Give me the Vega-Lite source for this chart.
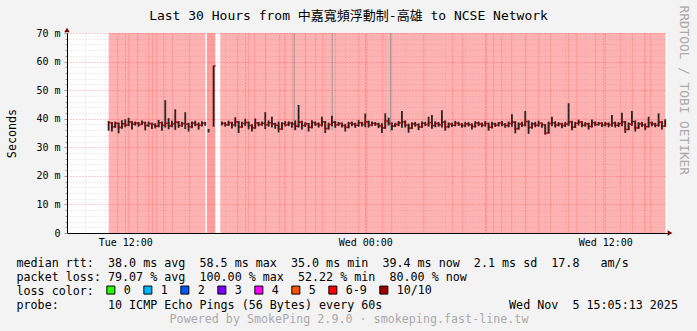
{
  "$schema": "https://vega.github.io/schema/vega-lite/v6.json",
  "width": 600,
  "height": 200,
  "autosize": {"type": "none"},
  "padding": {"left": 67, "top": 33, "right": 30, "bottom": 98},
  "background": "#f3f3f3",
  "config": {"font": "DejaVu Sans Mono", "view": {"fill": "#ffffff", "stroke": null}},
  "datasets": {
    "bg": [
      {"t0": "2025-11-04T11:10", "t1": "2025-11-04T16:00", "loss": "6-9", "shade": "light"},
      {"t0": "2025-11-04T16:05", "t1": "2025-11-04T16:30", "loss": "6-9", "shade": "light"},
      {"t0": "2025-11-04T16:05", "t1": "2025-11-04T16:30", "loss": "6-9", "shade": "dark"},
      {"t0": "2025-11-04T16:45", "t1": "2025-11-05T15:00", "loss": "6-9", "shade": "light"},
      {"t0": "2025-11-04T11:35", "t1": "2025-11-04T11:39", "loss": "6-9", "shade": "dark"},
      {"t0": "2025-11-04T12:08", "t1": "2025-11-04T12:12", "loss": "6-9", "shade": "dark"},
      {"t0": "2025-11-04T12:35", "t1": "2025-11-04T12:39", "loss": "6-9", "shade": "dark"},
      {"t0": "2025-11-04T13:08", "t1": "2025-11-04T13:12", "loss": "6-9", "shade": "dark"},
      {"t0": "2025-11-04T13:20", "t1": "2025-11-04T13:24", "loss": "6-9", "shade": "dark"},
      {"t0": "2025-11-04T13:32", "t1": "2025-11-04T13:36", "loss": "6-9", "shade": "dark"},
      {"t0": "2025-11-04T13:53", "t1": "2025-11-04T13:57", "loss": "6-9", "shade": "dark"},
      {"t0": "2025-11-04T14:20", "t1": "2025-11-04T14:24", "loss": "6-9", "shade": "dark"},
      {"t0": "2025-11-04T15:11", "t1": "2025-11-04T15:15", "loss": "6-9", "shade": "dark"},
      {"t0": "2025-11-04T17:35", "t1": "2025-11-04T17:39", "loss": "6-9", "shade": "dark"},
      {"t0": "2025-11-04T18:08", "t1": "2025-11-04T18:12", "loss": "6-9", "shade": "dark"},
      {"t0": "2025-11-04T18:26", "t1": "2025-11-04T18:30", "loss": "6-9", "shade": "dark"},
      {"t0": "2025-11-04T18:59", "t1": "2025-11-04T19:03", "loss": "6-9", "shade": "dark"},
      {"t0": "2025-11-04T19:41", "t1": "2025-11-04T19:45", "loss": "6-9", "shade": "dark"},
      {"t0": "2025-11-04T19:56", "t1": "2025-11-04T20:00", "loss": "6-9", "shade": "dark"},
      {"t0": "2025-11-04T20:20", "t1": "2025-11-04T20:24", "loss": "6-9", "shade": "dark"},
      {"t0": "2025-11-04T20:59", "t1": "2025-11-04T21:03", "loss": "6-9", "shade": "dark"},
      {"t0": "2025-11-04T21:29", "t1": "2025-11-04T21:33", "loss": "6-9", "shade": "dark"},
      {"t0": "2025-11-04T21:50", "t1": "2025-11-04T21:54", "loss": "6-9", "shade": "dark"},
      {"t0": "2025-11-04T22:29", "t1": "2025-11-04T22:33", "loss": "6-9", "shade": "dark"},
      {"t0": "2025-11-04T23:38", "t1": "2025-11-04T23:42", "loss": "6-9", "shade": "dark"},
      {"t0": "2025-11-05T00:02", "t1": "2025-11-05T00:06", "loss": "6-9", "shade": "dark"},
      {"t0": "2025-11-05T00:50", "t1": "2025-11-05T00:54", "loss": "6-9", "shade": "dark"},
      {"t0": "2025-11-05T01:17", "t1": "2025-11-05T01:21", "loss": "6-9", "shade": "dark"},
      {"t0": "2025-11-05T02:53", "t1": "2025-11-05T02:57", "loss": "6-9", "shade": "dark"},
      {"t0": "2025-11-05T04:20", "t1": "2025-11-05T04:24", "loss": "6-9", "shade": "dark"},
      {"t0": "2025-11-05T04:50", "t1": "2025-11-05T04:54", "loss": "6-9", "shade": "dark"},
      {"t0": "2025-11-05T06:02", "t1": "2025-11-05T06:06", "loss": "6-9", "shade": "dark"},
      {"t0": "2025-11-05T06:23", "t1": "2025-11-05T06:27", "loss": "6-9", "shade": "dark"},
      {"t0": "2025-11-05T06:47", "t1": "2025-11-05T06:51", "loss": "6-9", "shade": "dark"},
      {"t0": "2025-11-05T07:17", "t1": "2025-11-05T07:21", "loss": "6-9", "shade": "dark"},
      {"t0": "2025-11-05T07:59", "t1": "2025-11-05T08:03", "loss": "6-9", "shade": "dark"},
      {"t0": "2025-11-05T08:38", "t1": "2025-11-05T08:42", "loss": "6-9", "shade": "dark"},
      {"t0": "2025-11-05T09:14", "t1": "2025-11-05T09:18", "loss": "6-9", "shade": "dark"},
      {"t0": "2025-11-05T10:08", "t1": "2025-11-05T10:12", "loss": "6-9", "shade": "dark"},
      {"t0": "2025-11-05T10:32", "t1": "2025-11-05T10:36", "loss": "6-9", "shade": "dark"},
      {"t0": "2025-11-05T11:29", "t1": "2025-11-05T11:33", "loss": "6-9", "shade": "dark"},
      {"t0": "2025-11-05T11:53", "t1": "2025-11-05T11:57", "loss": "6-9", "shade": "dark"},
      {"t0": "2025-11-05T12:44", "t1": "2025-11-05T12:48", "loss": "6-9", "shade": "dark"},
      {"t0": "2025-11-05T13:20", "t1": "2025-11-05T13:24", "loss": "6-9", "shade": "dark"},
      {"t0": "2025-11-05T13:56", "t1": "2025-11-05T14:00", "loss": "6-9", "shade": "dark"},
      {"t0": "2025-11-05T14:14", "t1": "2025-11-05T14:18", "loss": "6-9", "shade": "dark"}
    ],
    "outliers": [
      {"t": "2025-11-04T20:27", "lo": 36.0, "hi": 80},
      {"t": "2025-11-04T22:21", "lo": 36.0, "hi": 80},
      {"t": "2025-11-05T01:16", "lo": 35.5, "hi": 80}
    ],
    "arrowUp": [{"t": "2025-11-04T09:05:13", "v": 70}],
    "arrowRight": [{"t": "2025-11-05T15:05:13", "v": 0}],
    "rtt": [
      {"t": "2025-11-04T11:10", "m": 38.6, "lo": 35.8, "hi": 39.2, "seg": "a"},
      {"t": "2025-11-04T11:20", "m": 37.2, "lo": 35.5, "hi": 38.8, "seg": "a"},
      {"t": "2025-11-04T11:30", "m": 38.4, "lo": 36.8, "hi": 39.0, "seg": "a"},
      {"t": "2025-11-04T11:40", "m": 36.9, "lo": 34.9, "hi": 38.6, "seg": "a"},
      {"t": "2025-11-04T11:50", "m": 38.2, "lo": 36.5, "hi": 39.5, "seg": "a"},
      {"t": "2025-11-04T12:00", "m": 37.8, "lo": 37.0, "hi": 39.8, "seg": "a"},
      {"t": "2025-11-04T12:10", "m": 38.9, "lo": 37.4, "hi": 40.3, "seg": "a"},
      {"t": "2025-11-04T12:20", "m": 38.1, "lo": 36.2, "hi": 39.2, "seg": "a"},
      {"t": "2025-11-04T12:30", "m": 38.5, "lo": 37.6, "hi": 39.0, "seg": "a"},
      {"t": "2025-11-04T12:40", "m": 38.0, "lo": 37.2, "hi": 38.8, "seg": "a"},
      {"t": "2025-11-04T12:50", "m": 38.7, "lo": 37.8, "hi": 39.4, "seg": "a"},
      {"t": "2025-11-04T13:00", "m": 37.6, "lo": 35.9, "hi": 38.9, "seg": "a"},
      {"t": "2025-11-04T13:10", "m": 38.3, "lo": 37.2, "hi": 39.0, "seg": "a"},
      {"t": "2025-11-04T13:20", "m": 38.0, "lo": 36.4, "hi": 38.6, "seg": "a"},
      {"t": "2025-11-04T13:30", "m": 37.4, "lo": 36.6, "hi": 38.4, "seg": "a"},
      {"t": "2025-11-04T13:40", "m": 38.6, "lo": 37.0, "hi": 39.6, "seg": "a"},
      {"t": "2025-11-04T13:50", "m": 37.7, "lo": 35.8, "hi": 39.0, "seg": "a"},
      {"t": "2025-11-04T14:00", "m": 38.4, "lo": 36.9, "hi": 46.5, "seg": "a"},
      {"t": "2025-11-04T14:10", "m": 37.5, "lo": 36.3, "hi": 40.2, "seg": "a"},
      {"t": "2025-11-04T14:20", "m": 38.2, "lo": 37.0, "hi": 39.3, "seg": "a"},
      {"t": "2025-11-04T14:30", "m": 38.8, "lo": 36.1, "hi": 43.3, "seg": "a"},
      {"t": "2025-11-04T14:40", "m": 37.6, "lo": 36.8, "hi": 39.1, "seg": "a"},
      {"t": "2025-11-04T14:50", "m": 38.3, "lo": 37.2, "hi": 38.9, "seg": "a"},
      {"t": "2025-11-04T15:00", "m": 38.1, "lo": 36.4, "hi": 42.3, "seg": "a"},
      {"t": "2025-11-04T15:10", "m": 37.2, "lo": 35.5, "hi": 38.6, "seg": "a"},
      {"t": "2025-11-04T15:20", "m": 38.5, "lo": 36.7, "hi": 39.0, "seg": "a"},
      {"t": "2025-11-04T15:30", "m": 38.0, "lo": 37.4, "hi": 39.3, "seg": "a"},
      {"t": "2025-11-04T15:40", "m": 37.7, "lo": 36.2, "hi": 38.7, "seg": "a"},
      {"t": "2025-11-04T15:50", "m": 38.4, "lo": 37.3, "hi": 39.1, "seg": "a"},
      {"t": "2025-11-04T16:00", "m": 38.2, "lo": 37.5, "hi": 38.9, "seg": "a"},
      {"t": "2025-11-04T16:10", "m": 35.6, "lo": 35.2, "hi": 36.4, "seg": "b"},
      {"t": "2025-11-04T16:25", "m": 58.5, "lo": 37.2, "hi": 58.5, "seg": "c"},
      {"t": "2025-11-04T16:31", "m": 58.5, "lo": 58.5, "hi": 58.5, "seg": "c"},
      {"t": "2025-11-04T16:50", "m": 38.4, "lo": 37.6, "hi": 39.0, "seg": "d"},
      {"t": "2025-11-04T17:00", "m": 37.9, "lo": 37.2, "hi": 38.8, "seg": "d"},
      {"t": "2025-11-04T17:10", "m": 38.6, "lo": 37.5, "hi": 39.3, "seg": "d"},
      {"t": "2025-11-04T17:20", "m": 37.8, "lo": 36.6, "hi": 38.9, "seg": "d"},
      {"t": "2025-11-04T17:30", "m": 38.9, "lo": 37.2, "hi": 40.5, "seg": "d"},
      {"t": "2025-11-04T17:40", "m": 37.1, "lo": 35.0, "hi": 39.2, "seg": "d"},
      {"t": "2025-11-04T17:50", "m": 38.3, "lo": 36.8, "hi": 38.9, "seg": "d"},
      {"t": "2025-11-04T18:00", "m": 38.7, "lo": 37.4, "hi": 40.0, "seg": "d"},
      {"t": "2025-11-04T18:10", "m": 37.6, "lo": 36.3, "hi": 39.0, "seg": "d"},
      {"t": "2025-11-04T18:20", "m": 36.8, "lo": 35.5, "hi": 38.1, "seg": "d"},
      {"t": "2025-11-04T18:30", "m": 38.5, "lo": 36.5, "hi": 40.1, "seg": "d"},
      {"t": "2025-11-04T18:40", "m": 38.0, "lo": 37.3, "hi": 38.9, "seg": "d"},
      {"t": "2025-11-04T18:50", "m": 38.4, "lo": 37.5, "hi": 39.0, "seg": "d"},
      {"t": "2025-11-04T19:00", "m": 37.9, "lo": 36.4, "hi": 42.3, "seg": "d"},
      {"t": "2025-11-04T19:10", "m": 38.6, "lo": 37.2, "hi": 39.4, "seg": "d"},
      {"t": "2025-11-04T19:20", "m": 38.2, "lo": 36.9, "hi": 40.7, "seg": "d"},
      {"t": "2025-11-04T19:30", "m": 37.7, "lo": 36.5, "hi": 38.6, "seg": "d"},
      {"t": "2025-11-04T19:40", "m": 36.4, "lo": 35.2, "hi": 39.0, "seg": "d"},
      {"t": "2025-11-04T19:50", "m": 38.3, "lo": 36.1, "hi": 38.8, "seg": "d"},
      {"t": "2025-11-04T20:00", "m": 37.9, "lo": 37.3, "hi": 39.2, "seg": "d"},
      {"t": "2025-11-04T20:10", "m": 38.5, "lo": 37.4, "hi": 39.1, "seg": "d"},
      {"t": "2025-11-04T20:20", "m": 38.1, "lo": 36.8, "hi": 38.9, "seg": "d"},
      {"t": "2025-11-04T20:30", "m": 37.4, "lo": 36.0, "hi": 39.4, "seg": "d"},
      {"t": "2025-11-04T20:40", "m": 38.8, "lo": 36.9, "hi": 44.8, "seg": "d"},
      {"t": "2025-11-04T20:50", "m": 37.6, "lo": 36.2, "hi": 39.3, "seg": "d"},
      {"t": "2025-11-04T21:00", "m": 38.2, "lo": 37.1, "hi": 38.8, "seg": "d"},
      {"t": "2025-11-04T21:10", "m": 37.0, "lo": 35.5, "hi": 38.5, "seg": "d"},
      {"t": "2025-11-04T21:20", "m": 38.7, "lo": 36.6, "hi": 39.5, "seg": "d"},
      {"t": "2025-11-04T21:30", "m": 38.1, "lo": 37.5, "hi": 39.0, "seg": "d"},
      {"t": "2025-11-04T21:40", "m": 37.8, "lo": 36.9, "hi": 38.7, "seg": "d"},
      {"t": "2025-11-04T21:50", "m": 38.9, "lo": 37.3, "hi": 40.7, "seg": "d"},
      {"t": "2025-11-04T22:00", "m": 36.6, "lo": 35.0, "hi": 39.2, "seg": "d"},
      {"t": "2025-11-04T22:10", "m": 38.0, "lo": 36.2, "hi": 38.6, "seg": "d"},
      {"t": "2025-11-04T22:20", "m": 38.8, "lo": 37.4, "hi": 41.0, "seg": "d"},
      {"t": "2025-11-04T22:30", "m": 37.9, "lo": 36.8, "hi": 39.2, "seg": "d"},
      {"t": "2025-11-04T22:40", "m": 38.3, "lo": 37.5, "hi": 38.9, "seg": "d"},
      {"t": "2025-11-04T22:50", "m": 37.6, "lo": 36.9, "hi": 38.7, "seg": "d"},
      {"t": "2025-11-04T23:00", "m": 37.0, "lo": 35.5, "hi": 38.2, "seg": "d"},
      {"t": "2025-11-04T23:10", "m": 38.4, "lo": 36.6, "hi": 38.9, "seg": "d"},
      {"t": "2025-11-04T23:20", "m": 38.1, "lo": 37.4, "hi": 39.0, "seg": "d"},
      {"t": "2025-11-04T23:30", "m": 37.7, "lo": 36.8, "hi": 38.6, "seg": "d"},
      {"t": "2025-11-04T23:40", "m": 38.6, "lo": 37.2, "hi": 39.5, "seg": "d"},
      {"t": "2025-11-04T23:50", "m": 38.0, "lo": 37.3, "hi": 38.9, "seg": "d"},
      {"t": "2025-11-05T00:00", "m": 38.9, "lo": 37.0, "hi": 41.8, "seg": "d"},
      {"t": "2025-11-05T00:10", "m": 37.8, "lo": 36.9, "hi": 39.3, "seg": "d"},
      {"t": "2025-11-05T00:20", "m": 38.4, "lo": 37.4, "hi": 39.0, "seg": "d"},
      {"t": "2025-11-05T00:30", "m": 38.1, "lo": 37.5, "hi": 38.8, "seg": "d"},
      {"t": "2025-11-05T00:40", "m": 37.5, "lo": 36.7, "hi": 38.6, "seg": "d"},
      {"t": "2025-11-05T00:50", "m": 36.8, "lo": 35.0, "hi": 38.4, "seg": "d"},
      {"t": "2025-11-05T01:00", "m": 39.2, "lo": 36.5, "hi": 41.9, "seg": "d"},
      {"t": "2025-11-05T01:10", "m": 38.3, "lo": 37.6, "hi": 40.4, "seg": "d"},
      {"t": "2025-11-05T01:20", "m": 37.4, "lo": 36.0, "hi": 38.7, "seg": "d"},
      {"t": "2025-11-05T01:30", "m": 38.0, "lo": 37.1, "hi": 38.6, "seg": "d"},
      {"t": "2025-11-05T01:40", "m": 38.6, "lo": 37.4, "hi": 39.2, "seg": "d"},
      {"t": "2025-11-05T01:50", "m": 38.9, "lo": 36.8, "hi": 42.7, "seg": "d"},
      {"t": "2025-11-05T02:00", "m": 37.8, "lo": 36.9, "hi": 39.4, "seg": "d"},
      {"t": "2025-11-05T02:10", "m": 36.7, "lo": 35.1, "hi": 38.3, "seg": "d"},
      {"t": "2025-11-05T02:20", "m": 38.2, "lo": 36.4, "hi": 38.8, "seg": "d"},
      {"t": "2025-11-05T02:30", "m": 37.9, "lo": 37.2, "hi": 38.9, "seg": "d"},
      {"t": "2025-11-05T02:40", "m": 37.1, "lo": 36.0, "hi": 38.4, "seg": "d"},
      {"t": "2025-11-05T02:50", "m": 38.4, "lo": 36.8, "hi": 39.0, "seg": "d"},
      {"t": "2025-11-05T03:00", "m": 38.0, "lo": 37.4, "hi": 38.9, "seg": "d"},
      {"t": "2025-11-05T03:10", "m": 38.7, "lo": 37.2, "hi": 40.7, "seg": "d"},
      {"t": "2025-11-05T03:20", "m": 37.6, "lo": 36.5, "hi": 41.3, "seg": "d"},
      {"t": "2025-11-05T03:30", "m": 38.3, "lo": 37.0, "hi": 39.1, "seg": "d"},
      {"t": "2025-11-05T03:40", "m": 37.9, "lo": 37.2, "hi": 38.8, "seg": "d"},
      {"t": "2025-11-05T03:50", "m": 38.8, "lo": 36.9, "hi": 43.0, "seg": "d"},
      {"t": "2025-11-05T04:00", "m": 37.2, "lo": 35.8, "hi": 39.4, "seg": "d"},
      {"t": "2025-11-05T04:10", "m": 38.1, "lo": 36.7, "hi": 38.7, "seg": "d"},
      {"t": "2025-11-05T04:20", "m": 37.7, "lo": 37.1, "hi": 38.6, "seg": "d"},
      {"t": "2025-11-05T04:30", "m": 38.4, "lo": 37.3, "hi": 39.2, "seg": "d"},
      {"t": "2025-11-05T04:40", "m": 38.0, "lo": 37.5, "hi": 38.9, "seg": "d"},
      {"t": "2025-11-05T04:50", "m": 37.6, "lo": 36.8, "hi": 38.5, "seg": "d"},
      {"t": "2025-11-05T05:00", "m": 38.2, "lo": 37.0, "hi": 38.9, "seg": "d"},
      {"t": "2025-11-05T05:10", "m": 37.9, "lo": 37.3, "hi": 38.8, "seg": "d"},
      {"t": "2025-11-05T05:20", "m": 37.3, "lo": 36.2, "hi": 38.4, "seg": "d"},
      {"t": "2025-11-05T05:30", "m": 38.5, "lo": 36.9, "hi": 39.1, "seg": "d"},
      {"t": "2025-11-05T05:40", "m": 38.1, "lo": 37.4, "hi": 39.0, "seg": "d"},
      {"t": "2025-11-05T05:50", "m": 37.8, "lo": 37.0, "hi": 38.7, "seg": "d"},
      {"t": "2025-11-05T06:00", "m": 38.3, "lo": 37.2, "hi": 39.2, "seg": "d"},
      {"t": "2025-11-05T06:10", "m": 37.0, "lo": 35.8, "hi": 38.6, "seg": "d"},
      {"t": "2025-11-05T06:20", "m": 38.2, "lo": 36.6, "hi": 38.9, "seg": "d"},
      {"t": "2025-11-05T06:30", "m": 37.7, "lo": 37.1, "hi": 38.6, "seg": "d"},
      {"t": "2025-11-05T06:40", "m": 38.6, "lo": 37.3, "hi": 38.8, "seg": "d"},
      {"t": "2025-11-05T06:50", "m": 38.0, "lo": 37.4, "hi": 39.2, "seg": "d"},
      {"t": "2025-11-05T07:00", "m": 37.6, "lo": 36.8, "hi": 38.5, "seg": "d"},
      {"t": "2025-11-05T07:10", "m": 38.3, "lo": 37.0, "hi": 39.0, "seg": "d"},
      {"t": "2025-11-05T07:20", "m": 38.8, "lo": 37.2, "hi": 41.6, "seg": "d"},
      {"t": "2025-11-05T07:30", "m": 36.5, "lo": 34.9, "hi": 39.1, "seg": "d"},
      {"t": "2025-11-05T07:40", "m": 38.1, "lo": 36.2, "hi": 38.7, "seg": "d"},
      {"t": "2025-11-05T07:50", "m": 37.8, "lo": 37.1, "hi": 38.9, "seg": "d"},
      {"t": "2025-11-05T08:00", "m": 39.0, "lo": 37.3, "hi": 42.7, "seg": "d"},
      {"t": "2025-11-05T08:10", "m": 36.9, "lo": 34.7, "hi": 39.4, "seg": "d"},
      {"t": "2025-11-05T08:20", "m": 38.2, "lo": 36.5, "hi": 38.8, "seg": "d"},
      {"t": "2025-11-05T08:30", "m": 37.7, "lo": 37.0, "hi": 38.9, "seg": "d"},
      {"t": "2025-11-05T08:40", "m": 38.4, "lo": 37.2, "hi": 39.3, "seg": "d"},
      {"t": "2025-11-05T08:50", "m": 37.9, "lo": 36.8, "hi": 38.6, "seg": "d"},
      {"t": "2025-11-05T09:00", "m": 35.0, "lo": 34.4, "hi": 38.2, "seg": "d"},
      {"t": "2025-11-05T09:10", "m": 38.3, "lo": 34.8, "hi": 39.0, "seg": "d"},
      {"t": "2025-11-05T09:20", "m": 38.6, "lo": 37.4, "hi": 40.7, "seg": "d"},
      {"t": "2025-11-05T09:30", "m": 37.8, "lo": 36.9, "hi": 39.1, "seg": "d"},
      {"t": "2025-11-05T09:40", "m": 38.2, "lo": 37.3, "hi": 38.8, "seg": "d"},
      {"t": "2025-11-05T09:50", "m": 37.6, "lo": 36.7, "hi": 38.6, "seg": "d"},
      {"t": "2025-11-05T10:00", "m": 38.1, "lo": 37.1, "hi": 38.9, "seg": "d"},
      {"t": "2025-11-05T10:10", "m": 38.9, "lo": 37.5, "hi": 45.4, "seg": "d"},
      {"t": "2025-11-05T10:20", "m": 37.0, "lo": 36.0, "hi": 39.3, "seg": "d"},
      {"t": "2025-11-05T10:30", "m": 38.4, "lo": 36.8, "hi": 38.9, "seg": "d"},
      {"t": "2025-11-05T10:40", "m": 38.8, "lo": 37.6, "hi": 39.7, "seg": "d"},
      {"t": "2025-11-05T10:50", "m": 37.7, "lo": 37.0, "hi": 39.1, "seg": "d"},
      {"t": "2025-11-05T11:00", "m": 38.2, "lo": 37.2, "hi": 38.8, "seg": "d"},
      {"t": "2025-11-05T11:10", "m": 37.3, "lo": 36.2, "hi": 38.6, "seg": "d"},
      {"t": "2025-11-05T11:20", "m": 38.7, "lo": 36.9, "hi": 39.7, "seg": "d"},
      {"t": "2025-11-05T11:30", "m": 38.0, "lo": 37.4, "hi": 39.0, "seg": "d"},
      {"t": "2025-11-05T11:40", "m": 38.4, "lo": 37.6, "hi": 38.9, "seg": "d"},
      {"t": "2025-11-05T11:50", "m": 37.8, "lo": 37.1, "hi": 38.8, "seg": "d"},
      {"t": "2025-11-05T12:00", "m": 38.2, "lo": 37.3, "hi": 38.9, "seg": "d"},
      {"t": "2025-11-05T12:10", "m": 37.9, "lo": 37.0, "hi": 38.7, "seg": "d"},
      {"t": "2025-11-05T12:20", "m": 38.5, "lo": 37.2, "hi": 41.3, "seg": "d"},
      {"t": "2025-11-05T12:30", "m": 37.7, "lo": 36.9, "hi": 39.0, "seg": "d"},
      {"t": "2025-11-05T12:40", "m": 38.3, "lo": 37.1, "hi": 38.8, "seg": "d"},
      {"t": "2025-11-05T12:50", "m": 38.9, "lo": 37.4, "hi": 42.1, "seg": "d"},
      {"t": "2025-11-05T13:00", "m": 36.2, "lo": 35.0, "hi": 39.2, "seg": "d"},
      {"t": "2025-11-05T13:10", "m": 38.1, "lo": 36.0, "hi": 38.7, "seg": "d"},
      {"t": "2025-11-05T13:20", "m": 39.0, "lo": 37.5, "hi": 42.7, "seg": "d"},
      {"t": "2025-11-05T13:30", "m": 36.8, "lo": 35.5, "hi": 39.3, "seg": "d"},
      {"t": "2025-11-05T13:40", "m": 38.2, "lo": 36.5, "hi": 38.8, "seg": "d"},
      {"t": "2025-11-05T13:50", "m": 37.8, "lo": 37.1, "hi": 38.9, "seg": "d"},
      {"t": "2025-11-05T14:00", "m": 37.2, "lo": 36.0, "hi": 38.4, "seg": "d"},
      {"t": "2025-11-05T14:10", "m": 38.6, "lo": 37.0, "hi": 40.7, "seg": "d"},
      {"t": "2025-11-05T14:20", "m": 38.1, "lo": 37.4, "hi": 39.0, "seg": "d"},
      {"t": "2025-11-05T14:30", "m": 37.7, "lo": 37.0, "hi": 38.6, "seg": "d"},
      {"t": "2025-11-05T14:40", "m": 38.8, "lo": 37.2, "hi": 41.9, "seg": "d"},
      {"t": "2025-11-05T14:50", "m": 37.4, "lo": 36.2, "hi": 39.1, "seg": "d"},
      {"t": "2025-11-05T15:00", "m": 39.4, "lo": 37.3, "hi": 39.8, "seg": "d"}
    ]
  },
  "layer": [
    {
      "data": {"name": "bg"},
      "mark": {"type": "rect"},
      "encoding": {
        "x": {
          "field": "t0", "type": "temporal",
          "scale": {"domain": [{"year": 2025, "month": 11, "date": 4, "hours": 9, "minutes": 5, "seconds": 13}, {"year": 2025, "month": 11, "date": 5, "hours": 15, "minutes": 5, "seconds": 13}], "nice": false},
          "axis": {
            "orient": "bottom",
            "values": [
              {"year": 2025, "month": 11, "date": 4, "hours": 12},
              {"year": 2025, "month": 11, "date": 4, "hours": 18},
              {"year": 2025, "month": 11, "date": 5, "hours": 0},
              {"year": 2025, "month": 11, "date": 5, "hours": 6},
              {"year": 2025, "month": 11, "date": 5, "hours": 12}
            ],
            "labelExpr": "hours(datum.value) % 12 === 0 ? timeFormat(datum.value, '%a %H:%M') : ''",
            "labelFont": "DejaVu Sans Mono", "labelFontSize": 10, "labelColor": "#000000", "labelPadding": 4,
            "labelFlush": false, "labelOverlap": false,
            "ticks": false,
            "domain": true, "domainColor": "#000000", "domainWidth": 1,
            "grid": true, "gridColor": "#ff0000", "gridOpacity": 0.4, "gridDash": [1, 2], "gridWidth": 1,
            "zindex": 1,
            "title": [
              "median\u00a0rtt:\u00a0\u00a038.0\u00a0ms\u00a0avg\u00a0\u00a058.5\u00a0ms\u00a0max\u00a0\u00a035.0\u00a0ms\u00a0min\u00a0\u00a039.4\u00a0ms\u00a0now\u00a0\u00a02.1\u00a0ms\u00a0sd\u00a0\u00a017.8\u00a0\u00a0\u00a0am/s",
              "packet\u00a0loss:\u00a079.07\u00a0%\u00a0avg\u00a0\u00a0100.00\u00a0%\u00a0max\u00a0\u00a052.22\u00a0%\u00a0min\u00a0\u00a080.00\u00a0%\u00a0now",
              "loss\u00a0color:",
              "probe:\u00a0\u00a0\u00a0\u00a0\u00a0\u00a0\u00a010\u00a0ICMP\u00a0Echo\u00a0Pings\u00a0(56\u00a0Bytes)\u00a0every\u00a060s\u00a0\u00a0\u00a0\u00a0\u00a0\u00a0\u00a0\u00a0\u00a0\u00a0\u00a0\u00a0\u00a0\u00a0\u00a0\u00a0\u00a0\u00a0Wed\u00a0Nov\u00a0\u00a05\u00a015:05:13\u00a02025"
            ],
            "titleX": -51, "titleY": 33, "titleAlign": "left", "titleBaseline": "alphabetic",
            "titleFont": "DejaVu Sans Mono", "titleFontSize": 11.7, "titleFontWeight": "normal", "titleColor": "#000000", "titleLineHeight": 14
          }
        },
        "x2": {"field": "t1"},
        "color": {
          "field": "loss", "type": "nominal",
          "scale": {"domain": ["0", "1", "2", "3", "4", "5", "6-9", "10/10"], "range": ["#26ff00", "#00b8ff", "#0059ff", "#7e00ff", "#ff00ff", "#ff5500", "#ff0000", "#a10000"]},
          "legend": {
            "orient": "none", "legendX": 38, "legendY": 251, "direction": "horizontal", "columns": 8,
            "title": null, "padding": 0,
            "symbolType": "square", "symbolSize": 64, "symbolStrokeColor": "#000000", "symbolStrokeWidth": 1, "symbolOpacity": 1,
            "labelFont": "DejaVu Sans Mono", "labelFontSize": 11.7, "labelColor": "#000000", "labelOffset": 7, "columnPadding": 10
          }
        },
        "opacity": {"condition": {"test": "datum.shade === 'dark'", "value": 0.12}, "value": 0.3}
      }
    },
    {
      "data": {"name": "outliers"},
      "mark": {"type": "rule", "color": "#9a9a9a", "strokeWidth": 1, "clip": true},
      "encoding": {
        "x": {
          "field": "t", "type": "temporal",
          "scale": {"domain": [{"year": 2025, "month": 11, "date": 4, "hours": 9, "minutes": 5, "seconds": 13}, {"year": 2025, "month": 11, "date": 5, "hours": 15, "minutes": 5, "seconds": 13}], "nice": false},
          "axis": {
            "orient": "bottom",
            "values": [
              {"year": 2025, "month": 11, "date": 4, "hours": 10},
              {"year": 2025, "month": 11, "date": 4, "hours": 11},
              {"year": 2025, "month": 11, "date": 4, "hours": 13},
              {"year": 2025, "month": 11, "date": 4, "hours": 14},
              {"year": 2025, "month": 11, "date": 4, "hours": 15},
              {"year": 2025, "month": 11, "date": 4, "hours": 16},
              {"year": 2025, "month": 11, "date": 4, "hours": 17},
              {"year": 2025, "month": 11, "date": 4, "hours": 19},
              {"year": 2025, "month": 11, "date": 4, "hours": 20},
              {"year": 2025, "month": 11, "date": 4, "hours": 21},
              {"year": 2025, "month": 11, "date": 4, "hours": 22},
              {"year": 2025, "month": 11, "date": 4, "hours": 23},
              {"year": 2025, "month": 11, "date": 5, "hours": 1},
              {"year": 2025, "month": 11, "date": 5, "hours": 2},
              {"year": 2025, "month": 11, "date": 5, "hours": 3},
              {"year": 2025, "month": 11, "date": 5, "hours": 4},
              {"year": 2025, "month": 11, "date": 5, "hours": 5},
              {"year": 2025, "month": 11, "date": 5, "hours": 7},
              {"year": 2025, "month": 11, "date": 5, "hours": 8},
              {"year": 2025, "month": 11, "date": 5, "hours": 9},
              {"year": 2025, "month": 11, "date": 5, "hours": 10},
              {"year": 2025, "month": 11, "date": 5, "hours": 11},
              {"year": 2025, "month": 11, "date": 5, "hours": 13},
              {"year": 2025, "month": 11, "date": 5, "hours": 14},
              {"year": 2025, "month": 11, "date": 5, "hours": 15}
            ],
            "labels": false, "ticks": false, "domain": false,
            "grid": true, "gridColor": "#8c8c8c", "gridDash": [1, 2], "gridOpacity": 0.3,
            "zindex": 1,
            "title": "Powered by SmokePing 2.9.0 · smokeping.fast-line.tw",
            "titleX": 281.5, "titleY": 85, "titleAlign": "center", "titleBaseline": "middle",
            "titleFont": "DejaVu Sans Mono", "titleFontSize": 11.7, "titleFontWeight": "normal", "titleColor": "#aaaaaa"
          }
        },
        "y": {
          "field": "lo", "type": "quantitative",
          "scale": {"domain": [0, 70], "nice": false},
          "axis": {
            "orient": "left",
            "values": [2, 4, 6, 8, 12, 14, 16, 18, 22, 24, 26, 28, 32, 34, 36, 38, 42, 44, 46, 48, 52, 54, 56, 58, 62, 64, 66, 68],
            "labels": false, "ticks": true, "tickSize": 2, "tickColor": "#999999", "domain": false,
            "grid": true, "gridColor": "#8c8c8c", "gridOpacity": 0.3, "gridDash": [1, 2],
            "zindex": 1, "title": null
          }
        },
        "y2": {"field": "hi"}
      }
    },
    {
      "data": {"name": "rtt"},
      "mark": {"type": "line", "color": "#ff0000", "strokeWidth": 1.6, "interpolate": "step-after"},
      "encoding": {
        "x": {
          "field": "t", "type": "temporal",
          "scale": {"domain": [{"year": 2025, "month": 11, "date": 4, "hours": 9, "minutes": 5, "seconds": 13}, {"year": 2025, "month": 11, "date": 5, "hours": 15, "minutes": 5, "seconds": 13}], "nice": false},
          "axis": {
            "orient": "top", "labels": false, "ticks": false, "domain": false, "grid": false,
            "title": "Last 30 Hours from 中嘉寬頻浮動制-高雄 to NCSE Network",
            "titleX": 281, "titleY": -18, "titleAlign": "center", "titleBaseline": "middle",
            "titleFont": "DejaVu Sans Mono, Noto Sans CJK TC", "titleFontSize": 13, "titleFontWeight": "normal", "titleColor": "#000000"
          }
        },
        "y": {
          "field": "m", "type": "quantitative",
          "scale": {"domain": [0, 70], "nice": false},
          "axis": {
            "orient": "left",
            "values": [0, 10, 20, 30, 40, 50, 60, 70],
            "labelExpr": "datum.value === 0 ? '0' : datum.value + ' m'",
            "labelFont": "DejaVu Sans Mono", "labelFontSize": 10, "labelColor": "#000000", "labelPadding": 4,
            "ticks": true, "tickSize": 3, "tickColor": "#999999",
            "domain": true, "domainColor": "#000000",
            "grid": true, "gridColor": "#ff0000", "gridOpacity": 0.4, "gridDash": [1, 2],
            "zindex": 1,
            "title": "Seconds", "titleAngle": 270, "titleX": -56, "titleY": 100, "titleAlign": "center", "titleBaseline": "middle",
            "titleFont": "DejaVu Sans Mono", "titleFontSize": 11.7, "titleFontWeight": "normal", "titleColor": "#000000"
          }
        },
        "detail": {"field": "seg"}
      }
    },
    {
      "data": {"name": "rtt"},
      "mark": {"type": "rule", "color": "#222222", "strokeWidth": 1.8},
      "encoding": {
        "x": {
          "field": "t", "type": "temporal",
          "scale": {"domain": [{"year": 2025, "month": 11, "date": 4, "hours": 9, "minutes": 5, "seconds": 13}, {"year": 2025, "month": 11, "date": 5, "hours": 15, "minutes": 5, "seconds": 13}], "nice": false},
          "axis": null
        },
        "y": {
          "field": "lo", "type": "quantitative",
          "scale": {"domain": [0, 70], "nice": false},
          "axis": {
            "orient": "right", "labels": false, "ticks": false, "domain": false, "grid": false,
            "title": "RRDTOOL / TOBI OETIKER", "titleAngle": 90, "titleX": 16, "titleY": -28,
            "titleAlign": "left", "titleBaseline": "middle",
            "titleFont": "DejaVu Sans Mono", "titleFontSize": 12.8, "titleFontWeight": "normal", "titleColor": "#aaaaaa"
          }
        },
        "y2": {"field": "hi"}
      }
    },
    {
      "data": {"name": "arrowUp"},
      "mark": {"type": "point", "shape": "triangle-up", "size": 30, "filled": true, "opacity": 1, "color": "#7f0000", "yOffset": -3},
      "encoding": {
        "x": {"field": "t", "type": "temporal", "scale": {"domain": [{"year": 2025, "month": 11, "date": 4, "hours": 9, "minutes": 5, "seconds": 13}, {"year": 2025, "month": 11, "date": 5, "hours": 15, "minutes": 5, "seconds": 13}], "nice": false}, "axis": null},
        "y": {"field": "v", "type": "quantitative", "scale": {"domain": [0, 70], "nice": false}, "axis": null}
      }
    },
    {
      "data": {"name": "arrowRight"},
      "mark": {"type": "point", "shape": "triangle-right", "size": 30, "filled": true, "opacity": 1, "color": "#7f0000", "xOffset": 3},
      "encoding": {
        "x": {"field": "t", "type": "temporal", "scale": {"domain": [{"year": 2025, "month": 11, "date": 4, "hours": 9, "minutes": 5, "seconds": 13}, {"year": 2025, "month": 11, "date": 5, "hours": 15, "minutes": 5, "seconds": 13}], "nice": false}, "axis": null},
        "y": {"field": "v", "type": "quantitative", "scale": {"domain": [0, 70], "nice": false}, "axis": null}
      }
    }
  ],
  "resolve": {"axis": {"x": "independent", "y": "independent"}}
}
